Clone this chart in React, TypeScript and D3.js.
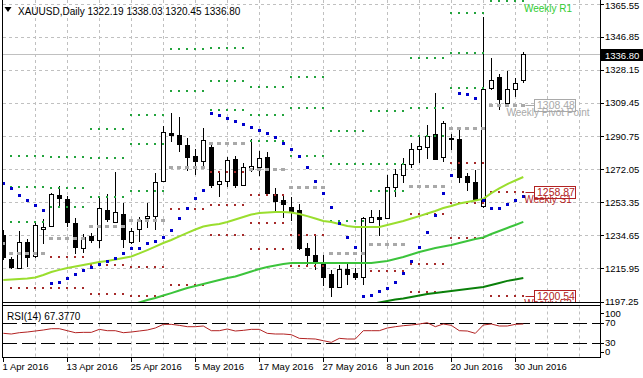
import React from "react";
import * as d3 from "d3";

const dates = [
  "2016-04-01","2016-04-04","2016-04-05","2016-04-06","2016-04-07","2016-04-08",
  "2016-04-11","2016-04-12","2016-04-13","2016-04-14","2016-04-15",
  "2016-04-18","2016-04-19","2016-04-20","2016-04-21","2016-04-22",
  "2016-04-25","2016-04-26","2016-04-27","2016-04-28","2016-04-29",
  "2016-05-02","2016-05-03","2016-05-04","2016-05-05","2016-05-06",
  "2016-05-09","2016-05-10","2016-05-11","2016-05-12","2016-05-13",
  "2016-05-16","2016-05-17","2016-05-18","2016-05-19","2016-05-20",
  "2016-05-23","2016-05-24","2016-05-25","2016-05-26","2016-05-27",
  "2016-05-30","2016-05-31","2016-06-01","2016-06-02","2016-06-03",
  "2016-06-06","2016-06-07","2016-06-08","2016-06-09","2016-06-10",
  "2016-06-13","2016-06-14","2016-06-15","2016-06-16","2016-06-17",
  "2016-06-20","2016-06-21","2016-06-22","2016-06-23","2016-06-24",
  "2016-06-27","2016-06-28","2016-06-29","2016-06-30","2016-07-01",
];

const opens = [1234.8,1221.3,1216.2,1230.9,1223.0,1238.2,1239.9,1257.4,1255.2,1241.6,1227.5,1234.2,1232.0,1248.9,1242.2,1246.7,1230.9,1238.2,1244.4,1245.5,1265.3,1292.5,1291.3,1285.7,1279.5,1276.6,1284.5,1263.6,1265.3,1277.8,1263.1,1272.1,1273.2,1278.9,1258.0,1254.6,1250.6,1248.9,1227.5,1223.5,1219.6,1212.8,1205.4,1215.6,1213.4,1211.1,1242.2,1245.0,1244.4,1262.0,1268.7,1274.9,1283.4,1284.5,1291.9,1278.9,1289.6,1289.1,1268.2,1264.8,1251.2,1317.9,1324.1,1309.4,1317.3,1322.19];
const highs = [1237.6,1222.4,1237.1,1232.6,1242.2,1243.8,1258.5,1262.5,1256.8,1244.4,1235.4,1236.0,1255.7,1258.0,1270.4,1252.9,1238.8,1245.0,1252.9,1269.8,1296.4,1303.8,1301.5,1289.6,1283.4,1295.3,1286.8,1270.4,1278.9,1279.5,1275.5,1289.0,1282.3,1281.7,1261.4,1258.0,1256.3,1252.3,1230.3,1234.8,1223.5,1215.1,1217.9,1219.0,1216.2,1245.0,1248.9,1248.9,1268.7,1272.1,1278.3,1286.8,1290.2,1297.0,1315.0,1299.2,1291.9,1294.1,1269.8,1271.5,1358.1,1334.8,1325.8,1327.5,1323.5,1338.03];
const lows = [1220.7,1215.6,1215.6,1216.7,1222.0,1229.7,1239.3,1250.6,1239.3,1224.1,1224.7,1230.3,1227.5,1242.2,1241.6,1227.5,1229.7,1230.9,1238.8,1237.6,1264.8,1287.4,1281.7,1271.0,1268.7,1272.1,1261.4,1256.3,1262.0,1261.4,1262.5,1270.4,1268.2,1257.4,1247.8,1244.3,1242.7,1226.3,1217.9,1215.1,1206.0,1199.8,1204.9,1206.6,1209.4,1206.6,1241.6,1234.2,1243.9,1256.3,1264.2,1272.7,1275.5,1277.8,1277.2,1276.1,1282.8,1264.2,1259.7,1254.0,1250.2,1316.7,1305.4,1309.0,1312.8,1320.45];
const closes = [1222.4,1216.8,1230.9,1222.4,1240.5,1239.3,1258.0,1255.7,1242.2,1228.0,1233.7,1232.0,1250.1,1243.9,1247.8,1232.6,1237.1,1243.3,1245.5,1264.8,1293.0,1291.3,1286.2,1278.9,1276.6,1288.5,1263.1,1265.3,1277.2,1263.1,1273.2,1273.8,1278.3,1258.5,1254.0,1252.3,1248.4,1227.5,1223.5,1219.6,1211.1,1205.4,1215.6,1212.8,1211.1,1244.4,1245.0,1243.9,1262.0,1269.3,1274.9,1283.4,1285.1,1290.75,1277.8,1298.1,1289.1,1267.6,1264.8,1254.6,1317.2,1322.4,1311.7,1317.3,1320.7,1336.80];

const maFast = [1209.4,1209.7,1210.0,1210.2,1210.8,1212.2,1213.9,1215.1,1216.2,1217.0,1217.9,1218.7,1219.6,1220.1,1221.0,1221.8,1222.7,1224.4,1226.3,1228.3,1230.3,1232.0,1234.0,1236.0,1237.9,1239.6,1240.5,1241.0,1242.2,1243.6,1245.0,1246.4,1247.2,1247.5,1247.8,1247.8,1247.5,1246.7,1245.5,1244.1,1242.7,1242.2,1241.0,1239.9,1239.3,1239.3,1239.3,1239.3,1240.5,1241.6,1242.7,1244.1,1245.5,1247.0,1248.4,1250.1,1251.2,1252.6,1253.5,1254.3,1255.2,1258.5,1261.1,1263.6,1265.6,1267.6];
const maMidStart = 16;
const maMid = [1195.3,1196.7,1198.1,1199.2,1200.6,1202.0,1203.5,1204.9,1206.0,1207.1,1208.3,1209.4,1210.5,1211.4,1212.8,1214.2,1215.6,1216.7,1217.6,1218.4,1219.0,1219.0,1219.0,1219.0,1219.0,1219.0,1219.0,1219.0,1219.0,1219.0,1219.0,1219.6,1220.1,1221.3,1222.4,1223.8,1225.2,1226.3,1227.5,1228.3,1229.2,1230.3,1231.4,1232.6,1233.4,1235.4,1237.1,1238.8,1240.5,1242.2];
const maSlowStart = 46;
const maSlow = [1195.8,1196.7,1197.5,1198.4,1198.9,1199.8,1200.6,1201.5,1202.0,1202.6,1203.2,1203.7,1204.3,1204.9,1205.4,1206.6,1207.7,1208.9,1209.7,1210.5];

const sar = [1264.2,1261.4,1257.4,1254.6,1251.8,1248.9,1207.7,1208.3,1210.5,1212.8,1215.1,1216.7,1218.4,1220.1,1221.8,1224.7,1227.5,1227.5,1230.3,1231.4,1233.7,1237.6,1244.4,1250.1,1255.7,1260.2,1303.8,1302.6,1300.9,1299.2,1297.5,1295.8,1294.1,1292.5,1290.2,1286.8,1283.4,1279.5,1273.2,1265.3,1258.5,1250.6,1241.6,1233.7,1228.0,1200.4,1200.9,1203.2,1204.9,1208.3,1213.4,1220.1,1228.0,1236.5,1246.1,1258.5,1268.7,1315.0,1314.5,1312.2,1254.6,1250.1,1250.1,1252.3,1254.6,1256.8];

const rsi = [48.8,47.4,50,51.4,53.4,55.4,58,58,54,50,50.7,50.7,56.7,54,54,50,51.4,53.4,55.4,59.4,66.7,66.7,64.7,62,62,63.4,54,54,57.4,53.4,54.7,56.7,56.7,48.7,47.4,47.4,46,38.7,38,37.4,34,30.7,38.7,37.4,37.4,54,54,54,59.4,62,64,65.4,67.4,70,62,67.4,64.7,54,53.4,48.7,65.4,67.4,63.4,63.4,66.7,67.377];

const weekFirst = [0,1,6,11,16,21,26,31,36,41,46,51,56,61];
const weekLast = [0,5,10,15,20,25,30,35,40,45,50,55,60,65];
const pivotP = [1230.3,1224.7,1232.9,1240.1,1243.5,1273.0,1287.0,1272.1,1261.9,1224.5,1229.7,1262.5,1295.3,1308.48];
const pivotR1 = [null,1242.2,1250.6,1256.1,1259.5,1316.3,1305.3,1287.9,1279.5,1243.0,1259.6,1290.8,1317.9,1366.81];
const pivotR2 = [null,1262.0,1261.3,1278.5,1286.4,1339.7,1322.1,1302.6,1306.6,1274.8,1274.9,1306.6,1337.6,1416.4];
const pivotR3 = [null,1279.5,1278.8,1294.5,1302.4,1383.0,1340.4,1318.4,1324.2,1293.3,1304.8,1334.9,1360.2,1474.7];
const pivotS1 = [null,1204.9,1222.4,1217.7,1216.6,1249.6,1270.2,1257.4,1234.8,1192.7,1214.4,1246.7,1275.6,1258.87];
const pivotS2 = [null,1187.4,1204.6,1201.7,1200.6,1206.3,1251.9,1241.6,1217.2,1174.2,1184.5,1218.4,1253.0,1200.54];
const pivotS3 = [null,1169.9,1187.0,1179.3,1173.7,1182.9,1235.1,1226.9,1190.1,1142.4,1169.2,1202.6,1233.3,1150.9];

const priceTicks = [1365.55,1346.85,1328.15,1309.45,1290.75,1272.05,1253.35,1234.65,1215.95,1197.25];
const rsiTicks = [100,70,30,0];
const rsiLevels = [70,30];
const dateTickEvery = 8;
const gridEvery = 4;

const FONT = "'Liberation Sans', Arial, sans-serif";

export default function App() {
  const W = 643, H = 378;
  const L = 3, R = 600, mainBottom = 302.5, rsiTop = 305.5, rsiBottom = 357;
  const n = closes.length;
  const x = d3.scaleLinear().domain([0, n - 1]).range([3.3, 3.3 + 8 * (n - 1)]);
  const y = d3.scaleLinear().domain([1197.25, 1365.55]).range([301.5, 3.6]);
  const yr = d3.scaleLinear().domain([0, 100]).range([357.7, 307.7]);
  const px = (i: number) => Math.round(x(i)) + 0.5;
  const crisp = (v: number) => Math.round(v) + 0.5;
  const parse = d3.timeParse("%Y-%m-%d");
  const fmt = d3.timeFormat("%-d %b %Y");

  const lineFast = d3.line<number>().x((_, i) => x(i)).y((d) => y(d));
  const lineMid = d3.line<number>().x((_, i) => x(i + maMidStart)).y((d) => y(d));
  const lineSlow = d3.line<number>().x((_, i) => x(i + maSlowStart)).y((d) => y(d));
  const lineRsi = d3.line<number>().x((_, i) => x(i)).y((d) => yr(d));

  const gridIdx: number[] = [];
  for (let i = gridEvery; x(i) < R; i += gridEvery) gridIdx.push(i);
  const dateIdx: number[] = [];
  for (let i = 0; i < n; i += dateTickEvery) dateIdx.push(i);

  const levelDots = (vals: (number | null)[], color: string, key: string) =>
    vals.flatMap((v, w) => {
      if (v == null) return [];
      const out: any[] = [];
      for (let i = weekFirst[w]; i <= weekLast[w]; i++) {
        out.push(<rect key={key + w + "_" + i} x={Math.round(x(i)) - 1} y={Math.round(y(v)) - 1} width={2} height={2} fill={color} />);
      }
      return out;
    });

  const last = n - 1;
  const lastW = weekFirst.length - 1;
  const labelCx = 548;

  const boxLabel = (v: number, color: string, name: string, key: string) => (
    <g key={key}>
      <line x1={px(last) + 2} x2={534} y1={crisp(y(v))} y2={crisp(y(v))} stroke={color} />
      <rect x={534.5} y={Math.round(y(v)) - 5.5} width={41} height={12} fill="#fff" stroke={color} />
      <text x={537} y={Math.round(y(v)) + 4} fontSize={10.5} fill={color}>{v.toFixed(2)}</text>
      <text x={labelCx} y={y(v) + 11} fontSize={10} fill={color} textAnchor="middle">{name}</text>
    </g>
  );

  return (
    <svg width={W} height={H} style={{ position: "absolute", left: 0, top: 0, background: "#fff" }} fontFamily={FONT}>
      <defs>
        <clipPath id="mainClip"><rect x={L} y={0} width={R - L} height={mainBottom} /></clipPath>
        <clipPath id="rsiClip"><rect x={L} y={rsiTop} width={R - L} height={rsiBottom - rsiTop} /></clipPath>
      </defs>
      <rect x={0} y={0} width={W} height={H} fill="#fff" />

      <g stroke="#c0c0c0" strokeDasharray="3 3" strokeWidth={1}>
        {priceTicks.map((p) => (
          <line key={"hg" + p} x1={L} x2={R} y1={crisp(y(p))} y2={crisp(y(p))} />
        ))}
        {gridIdx.map((i) => (
          <line key={"vg" + i} x1={px(i)} x2={px(i)} y1={0} y2={mainBottom} />
        ))}
        {gridIdx.map((i) => (
          <line key={"vgr" + i} x1={px(i)} x2={px(i)} y1={rsiTop} y2={rsiBottom} />
        ))}
      </g>

      <g clipPath="url(#mainClip)">
        <line x1={L} x2={R} y1={crisp(y(closes[last]))} y2={crisp(y(closes[last]))} stroke="#c0c0c0" />
        {closes.map((c, i) => {
          const o = opens[i];
          const bull = c >= o;
          const top = y(Math.max(o, c));
          const bot = y(Math.min(o, c));
          const cx = px(i);
          return (
            <g key={"c" + i}>
              <line x1={cx} x2={cx} y1={Math.round(y(highs[i]))} y2={Math.round(y(lows[i]))} stroke="#000" />
              <rect x={cx - 2} y={Math.round(top) + 0.5} width={4} height={Math.max(1, Math.round(bot) - Math.round(top))} fill={bull ? "#fff" : "#000"} stroke="#000" />
            </g>
          );
        })}
        {levelDots(pivotR3, "#22a33c", "r3")}
        {levelDots(pivotR2, "#22a33c", "r2")}
        {levelDots(pivotR1, "#22a33c", "r1")}
        {levelDots(pivotS1, "#a52a2a", "s1")}
        {levelDots(pivotS2, "#a52a2a", "s2")}
        {levelDots(pivotS3, "#a52a2a", "s3")}
        {pivotP.flatMap((v, w) => {
          const out: any[] = [];
          for (let i = weekFirst[w]; i <= weekLast[w]; i++) {
            out.push(<rect key={"p" + w + "_" + i} x={Math.round(x(i)) - 2} y={Math.round(y(v)) - 1} width={4} height={3} fill="#a9a9a9" />);
          }
          return out;
        })}
        <path d={lineFast(maFast) || ""} fill="none" stroke="#9ade2e" strokeWidth={2} />
        <path d={lineMid(maMid) || ""} fill="none" stroke="#3cc43c" strokeWidth={2} />
        <path d={lineSlow(maSlow) || ""} fill="none" stroke="#0a800a" strokeWidth={2} />
        {sar.map((s, i) => (
          <rect key={"s" + i} x={Math.round(x(i)) - 1} y={Math.round(y(s)) - 1} width={3} height={3} fill="#0000cd" />
        ))}
        {boxLabel(pivotP[lastW], "#a9a9a9", "Weekly Pivot Point", "bp")}
        {boxLabel(pivotS1[lastW] as number, "#b22222", "Weekly S1", "bs1")}
        {boxLabel(pivotS2[lastW] as number, "#b22222", "Weekly S2", "bs2")}
        <text x={labelCx} y={y(pivotR1[lastW] as number) + 11} fontSize={10} fill="#32cd32" textAnchor="middle">Weekly R1</text>
      </g>

      <polygon points="4.5,7 11.5,7 8,12" fill="#000" />
      <text x={18} y={15} fontSize={10} fill="#000">
        {"XAUUSD,Daily  " + [opens[last], highs[last], lows[last], closes[last]].map((v) => v.toFixed(2)).join(" ")}
      </text>

      <g clipPath="url(#rsiClip)">
        {rsiLevels.map((lv) => (
          <line key={"rl" + lv} x1={L} x2={R} y1={crisp(yr(lv))} y2={crisp(yr(lv))} stroke="#000" strokeDasharray="14 5" />
        ))}
        <path d={lineRsi(rsi) || ""} fill="none" stroke="#b22222" strokeWidth={1} />
      </g>
      <text x={7} y={320} fontSize={10} fill="#000">{"RSI(14) " + rsi[last].toFixed(4)}</text>

      <g stroke="#000" fill="none" strokeWidth={1}>
        <line x1={L - 0.5} x2={L - 0.5} y1={0} y2={rsiBottom} />
        <line x1={L} x2={R} y1={mainBottom} y2={mainBottom} />
        <line x1={L} x2={R} y1={rsiTop} y2={rsiTop} />
        <line x1={L - 1} x2={R} y1={rsiBottom + 0.5} y2={rsiBottom + 0.5} />
        <line x1={R + 0.5} x2={R + 0.5} y1={0} y2={rsiBottom + 1} />
      </g>

      <g fontSize={9.5} fill="#000">
        {priceTicks.map((p) => (
          <g key={"pt" + p}>
            <line x1={R + 1} x2={R + 4} y1={crisp(y(p))} y2={crisp(y(p))} stroke="#000" />
            <text x={605} y={Math.max(9, y(p) + 3.5)}>{p.toFixed(2)}</text>
          </g>
        ))}
      </g>
      <rect x={601} y={49} width={42} height={12} fill="#000" />
      <text x={605} y={58.5} fontSize={9.5} fill="#fff">{closes[last].toFixed(2)}</text>

      <g fontSize={9.5} fill="#000">
        {rsiTicks.map((t) => {
          const ty = t === 100 ? 313 : t === 0 ? 351.5 : yr(t);
          return (
            <g key={"rt" + t}>
              <line x1={R + 1} x2={R + 4} y1={crisp(ty)} y2={crisp(ty)} stroke="#000" />
              <text x={605} y={ty + 3.5}>{t}</text>
            </g>
          );
        })}
      </g>

      <g fontSize={9.5} fill="#000">
        {dateIdx.map((i) => (
          <g key={"dt" + i}>
            <line x1={px(i)} x2={px(i)} y1={rsiBottom} y2={rsiBottom + 5} stroke="#000" />
            <text x={px(i) - 1} y={370}>{fmt(parse(dates[i]) as Date)}</text>
          </g>
        ))}
      </g>
    </svg>
  );
}
